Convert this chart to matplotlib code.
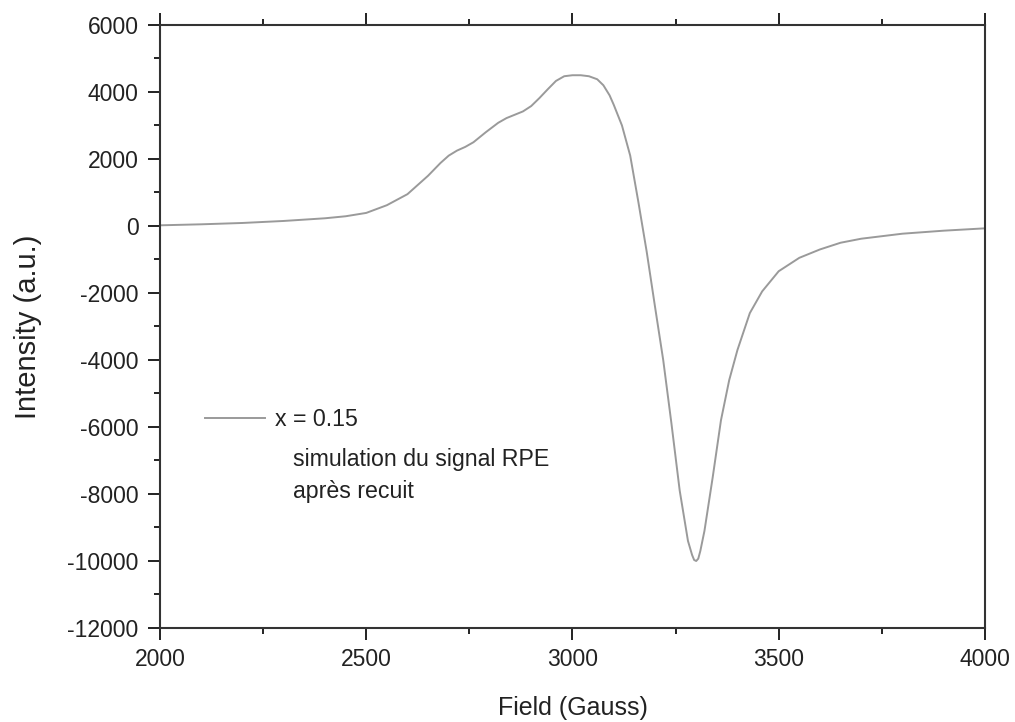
import matplotlib
matplotlib.use("Agg")
import matplotlib.pyplot as plt
from matplotlib.ticker import MultipleLocator
from matplotlib.lines import Line2D

plt.rcParams['font.family'] = ['Liberation Sans', 'DejaVu Sans']
plt.rcParams['axes.unicode_minus'] = False

field = [2000, 2100, 2200, 2300, 2400, 2450, 2500, 2550, 2600, 2650, 2680, 2700,
         2720, 2740, 2760, 2790, 2820, 2840, 2860, 2880, 2900, 2920, 2940, 2960,
         2980, 3000, 3020, 3040, 3060, 3075, 3090, 3100, 3120, 3140, 3160, 3180,
         3200, 3220, 3240, 3260, 3280, 3290, 3295, 3300, 3305, 3310, 3320, 3340,
         3360, 3380, 3400, 3430, 3460, 3500, 3550, 3600, 3650, 3700, 3800, 3900, 4000]
intensity = [20, 50, 90, 150, 230, 290, 390, 620, 950, 1500, 1880, 2100,
             2250, 2360, 2500, 2800, 3080, 3220, 3320, 3420, 3580, 3820, 4080, 4330,
             4470, 4500, 4500, 4470, 4380, 4200, 3900, 3620, 3000, 2100, 700, -770,
             -2400, -4000, -5900, -7900, -9400, -9820, -9970, -10000, -9930, -9700, -9100, -7500,
             -5800, -4600, -3700, -2600, -1950, -1350, -950, -700, -500, -380, -230, -140, -70]

legend_label = "x = 0.15"
note_lines = ["simulation du signal RPE", "après recuit"]

fig = plt.figure(figsize=(10.15, 7.22), dpi=100)
ax = fig.add_axes([0.1576, 0.1302, 0.8128, 0.8352])

line_color = "#9a9a9a"
text_color = "#222222"
ax.plot(field, intensity, color=line_color, lw=1.4, solid_joinstyle='round')

ax.set_xlim(2000, 4000)
ax.set_ylim(-12000, 6000)
ax.xaxis.set_major_locator(MultipleLocator(500))
ax.xaxis.set_minor_locator(MultipleLocator(250))
ax.yaxis.set_major_locator(MultipleLocator(2000))
ax.yaxis.set_minor_locator(MultipleLocator(1000))

ax.tick_params(axis='x', which='both', direction='out', top=True, bottom=True,
               labeltop=False, labelsize=16.5, colors=text_color, width=1.4, pad=6)
ax.tick_params(axis='y', which='both', direction='out', left=True, right=False,
               labelsize=16.5, colors=text_color, width=1.4, pad=7)
ax.tick_params(which='major', length=8.5)
ax.tick_params(which='minor', length=4.5)

for s in ax.spines.values():
    s.set_linewidth(1.5)
    s.set_color('#333333')

ax.set_xlabel("Field (Gauss)", fontsize=18, color=text_color, labelpad=18)
ax.set_ylabel("Intensity (a.u.)", fontsize=21, color=text_color, labelpad=18)

handle = Line2D([], [], color=line_color, lw=1.4)
ax.legend([handle], [legend_label], loc='center left',
          bbox_to_anchor=(0.0545, 0.345), frameon=False, fontsize=16.7,
          handlelength=2.6, handletextpad=0.43, borderpad=0, borderaxespad=0,
          labelcolor=text_color)

ax.text(0.161, 0.279, note_lines[0], transform=ax.transAxes, fontsize=16.7,
        color=text_color, va='center', ha='left')
ax.text(0.161, 0.226, note_lines[1], transform=ax.transAxes, fontsize=16.7,
        color=text_color, va='center', ha='left')

fig.savefig("out.png", dpi=100)
